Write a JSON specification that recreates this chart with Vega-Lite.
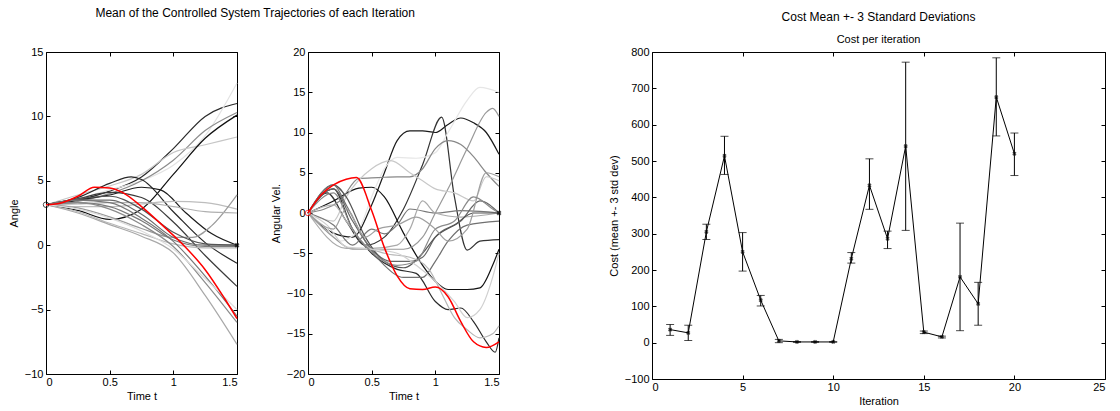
{
"$schema": "https://vega.github.io/schema/vega-lite/v6.json",
"background": "white",
"padding": {"left": 7, "top": 6, "right": 5, "bottom": 2},
"datasets": {
"ang": [
{"s":"a1","t":0,"v":3.14},{"s":"a1","t":0.25,"v":3.5},{"s":"a1","t":0.5,"v":4.2},{"s":"a1","t":0.75,"v":5.3},{"s":"a1","t":1,"v":7.5},{"s":"a1","t":1.25,"v":10},{"s":"a1","t":1.5,"v":11},
{"s":"a2","t":0,"v":3.14},{"s":"a2","t":0.25,"v":3.6},{"s":"a2","t":0.5,"v":4.3},{"s":"a2","t":0.75,"v":5},{"s":"a2","t":1,"v":6.2},{"s":"a2","t":1.25,"v":8.5},{"s":"a2","t":1.5,"v":12.6},
{"s":"a3","t":0,"v":3.14},{"s":"a3","t":0.25,"v":3.4},{"s":"a3","t":0.5,"v":4},{"s":"a3","t":0.75,"v":5},{"s":"a3","t":1,"v":6.6},{"s":"a3","t":1.25,"v":8.9},{"s":"a3","t":1.5,"v":10.3},
{"s":"a4","t":0,"v":3.14},{"s":"a4","t":0.25,"v":3.9},{"s":"a4","t":0.5,"v":4.6},{"s":"a4","t":0.75,"v":5.5},{"s":"a4","t":1,"v":7.2},{"s":"a4","t":1.25,"v":7.8},{"s":"a4","t":1.5,"v":8.4},
{"s":"a5","t":0,"v":3.14},{"s":"a5","t":0.25,"v":2.7},{"s":"a5","t":0.5,"v":2},{"s":"a5","t":0.75,"v":2.8},{"s":"a5","t":1,"v":5.5},{"s":"a5","t":1.25,"v":8.3},{"s":"a5","t":1.5,"v":10.1},
{"s":"a6","t":0,"v":3.14},{"s":"a6","t":0.25,"v":3.7},{"s":"a6","t":0.5,"v":4.8},{"s":"a6","t":0.67,"v":5.3},{"s":"a6","t":0.75,"v":5.1},{"s":"a6","t":1,"v":2.6},{"s":"a6","t":1.25,"v":0.2},{"s":"a6","t":1.5,"v":-1.4},
{"s":"a7","t":0,"v":3.14},{"s":"a7","t":0.25,"v":3.5},{"s":"a7","t":0.5,"v":3.9},{"s":"a7","t":0.75,"v":4.5},{"s":"a7","t":0.9,"v":4.3},{"s":"a7","t":1.1,"v":2.5},{"s":"a7","t":1.3,"v":0.9},{"s":"a7","t":1.5,"v":0},
{"s":"a8","t":0,"v":3.14},{"s":"a8","t":0.25,"v":3.6},{"s":"a8","t":0.5,"v":4.1},{"s":"a8","t":0.75,"v":3.7},{"s":"a8","t":1,"v":1.8},{"s":"a8","t":1.25,"v":-0.8},{"s":"a8","t":1.5,"v":-3.2},
{"s":"a9","t":0,"v":3.14},{"s":"a9","t":0.25,"v":3},{"s":"a9","t":0.5,"v":3},{"s":"a9","t":0.75,"v":3.2},{"s":"a9","t":1,"v":3.4},{"s":"a9","t":1.25,"v":3.3},{"s":"a9","t":1.5,"v":2.8},
{"s":"a10","t":0,"v":3.14},{"s":"a10","t":0.25,"v":2.9},{"s":"a10","t":0.5,"v":2.2},{"s":"a10","t":0.75,"v":1.3},{"s":"a10","t":1,"v":0.6},{"s":"a10","t":1.15,"v":0.6},{"s":"a10","t":1.3,"v":1.5},{"s":"a10","t":1.5,"v":3.9},
{"s":"a11","t":0,"v":3.14},{"s":"a11","t":0.25,"v":3.2},{"s":"a11","t":0.5,"v":3.3},{"s":"a11","t":0.75,"v":3.3},{"s":"a11","t":1,"v":3},{"s":"a11","t":1.25,"v":2.6},{"s":"a11","t":1.5,"v":2.5},
{"s":"a12","t":0,"v":3.14},{"s":"a12","t":0.25,"v":3.5},{"s":"a12","t":0.5,"v":3.5},{"s":"a12","t":0.75,"v":2.4},{"s":"a12","t":1,"v":0.6},{"s":"a12","t":1.25,"v":0},{"s":"a12","t":1.5,"v":0},
{"s":"a13","t":0,"v":3.14},{"s":"a13","t":0.25,"v":3.3},{"s":"a13","t":0.5,"v":3},{"s":"a13","t":0.75,"v":1.9},{"s":"a13","t":1,"v":0.4},{"s":"a13","t":1.25,"v":-0.1},{"s":"a13","t":1.5,"v":-0.1},
{"s":"a14","t":0,"v":3.14},{"s":"a14","t":0.25,"v":2.6},{"s":"a14","t":0.5,"v":1.7},{"s":"a14","t":0.75,"v":0.9},{"s":"a14","t":1,"v":0.1},{"s":"a14","t":1.25,"v":-0.2},{"s":"a14","t":1.5,"v":-0.2},
{"s":"a15","t":0,"v":3.14},{"s":"a15","t":0.25,"v":3.6},{"s":"a15","t":0.5,"v":3.8},{"s":"a15","t":0.75,"v":2.8},{"s":"a15","t":1,"v":1},{"s":"a15","t":1.25,"v":0.1},{"s":"a15","t":1.5,"v":0},
{"s":"a16","t":0,"v":3.14},{"s":"a16","t":0.25,"v":3.5},{"s":"a16","t":0.5,"v":3.3},{"s":"a16","t":0.75,"v":2.1},{"s":"a16","t":1,"v":0.3},{"s":"a16","t":1.25,"v":-2.4},{"s":"a16","t":1.5,"v":-5.5},
{"s":"a17","t":0,"v":3.14},{"s":"a17","t":0.25,"v":3.3},{"s":"a17","t":0.5,"v":2.8},{"s":"a17","t":0.75,"v":1.6},{"s":"a17","t":1,"v":-0.1},{"s":"a17","t":1.25,"v":-2.9},{"s":"a17","t":1.5,"v":-6},
{"s":"a18","t":0,"v":3.14},{"s":"a18","t":0.25,"v":2.5},{"s":"a18","t":0.5,"v":1.6},{"s":"a18","t":0.75,"v":0.7},{"s":"a18","t":1,"v":-0.6},{"s":"a18","t":1.25,"v":-3.9},{"s":"a18","t":1.5,"v":-7.7},
{"s":"a19","t":0,"v":3.14},{"s":"a19","t":0.25,"v":2.8},{"s":"a19","t":0.5,"v":2.1},{"s":"a19","t":0.75,"v":1.1},{"s":"a19","t":1,"v":-0.3},{"s":"a19","t":1.25,"v":-2.6},{"s":"a19","t":1.5,"v":-5},
{"s":"red","t":0,"v":3.14},{"s":"red","t":0.125,"v":3.3},{"s":"red","t":0.25,"v":3.8},{"s":"red","t":0.38,"v":4.5},{"s":"red","t":0.5,"v":4.45},{"s":"red","t":0.6,"v":4.1},{"s":"red","t":0.75,"v":3},{"s":"red","t":0.93,"v":1.4},{"s":"red","t":1.09,"v":-0.1},{"s":"red","t":1.25,"v":-1.9},{"s":"red","t":1.4,"v":-4.1},{"s":"red","t":1.5,"v":-5.7}
],
"vel": [
{"s":"v1","t":0,"v":0},{"s":"v1","t":0.2,"v":-2.5},{"s":"v1","t":0.35,"v":-3},{"s":"v1","t":0.5,"v":1},{"s":"v1","t":0.6,"v":5},{"s":"v1","t":0.7,"v":9},{"s":"v1","t":0.8,"v":10.2},{"s":"v1","t":0.9,"v":10.2},{"s":"v1","t":1,"v":10},{"s":"v1","t":1.1,"v":11},{"s":"v1","t":1.2,"v":11.8},{"s":"v1","t":1.3,"v":11.2},{"s":"v1","t":1.4,"v":10},{"s":"v1","t":1.5,"v":7.3},
{"s":"v2","t":0,"v":0},{"s":"v2","t":0.15,"v":2.5},{"s":"v2","t":0.3,"v":-1},{"s":"v2","t":0.45,"v":-4},{"s":"v2","t":0.6,"v":-3},{"s":"v2","t":0.75,"v":0.5},{"s":"v2","t":0.9,"v":6},{"s":"v2","t":1.05,"v":11.9},{"s":"v2","t":1.15,"v":2},{"s":"v2","t":1.25,"v":-4.6},{"s":"v2","t":1.35,"v":-3.5},{"s":"v2","t":1.5,"v":-3.3},
{"s":"v3","t":0,"v":0},{"s":"v3","t":0.2,"v":1.5},{"s":"v3","t":0.4,"v":3.1},{"s":"v3","t":0.5,"v":3.2},{"s":"v3","t":0.6,"v":2},{"s":"v3","t":0.75,"v":-2.5},{"s":"v3","t":0.9,"v":-6.5},{"s":"v3","t":1,"v":-8.5},{"s":"v3","t":1.1,"v":-9.5},{"s":"v3","t":1.25,"v":-9.5},{"s":"v3","t":1.35,"v":-9.3},{"s":"v3","t":1.45,"v":-6.5},{"s":"v3","t":1.5,"v":-4.5},
{"s":"v4","t":0,"v":0},{"s":"v4","t":0.2,"v":3},{"s":"v4","t":0.35,"v":-2},{"s":"v4","t":0.5,"v":-5},{"s":"v4","t":0.7,"v":-7},{"s":"v4","t":0.85,"v":-7.5},{"s":"v4","t":1,"v":-11},{"s":"v4","t":1.1,"v":-12},{"s":"v4","t":1.2,"v":-11.8},{"s":"v4","t":1.3,"v":-13.5},{"s":"v4","t":1.4,"v":-16},{"s":"v4","t":1.47,"v":-17.3},{"s":"v4","t":1.5,"v":-15.5},
{"s":"v5","t":0,"v":0},{"s":"v5","t":0.15,"v":-2},{"s":"v5","t":0.25,"v":-3.5},{"s":"v5","t":0.4,"v":-2},{"s":"v5","t":0.5,"v":2},{"s":"v5","t":0.6,"v":5.5},{"s":"v5","t":0.7,"v":6.9},{"s":"v5","t":0.85,"v":6.8},{"s":"v5","t":1,"v":7.5},{"s":"v5","t":1.1,"v":10},{"s":"v5","t":1.25,"v":14},{"s":"v5","t":1.35,"v":15.6},{"s":"v5","t":1.5,"v":15},
{"s":"v6","t":0,"v":0},{"s":"v6","t":0.2,"v":-3},{"s":"v6","t":0.35,"v":-4.5},{"s":"v6","t":0.5,"v":-4.5},{"s":"v6","t":0.75,"v":-4.5},{"s":"v6","t":0.9,"v":-3},{"s":"v6","t":1,"v":0},{"s":"v6","t":1.1,"v":3},{"s":"v6","t":1.25,"v":8},{"s":"v6","t":1.4,"v":12.5},{"s":"v6","t":1.45,"v":13},{"s":"v6","t":1.5,"v":12},
{"s":"v7","t":0,"v":0},{"s":"v7","t":0.25,"v":1.5},{"s":"v7","t":0.4,"v":4.3},{"s":"v7","t":0.55,"v":4.4},{"s":"v7","t":0.7,"v":4.5},{"s":"v7","t":0.8,"v":4.5},{"s":"v7","t":0.9,"v":5.5},{"s":"v7","t":1,"v":8},{"s":"v7","t":1.1,"v":9},{"s":"v7","t":1.2,"v":8.5},{"s":"v7","t":1.3,"v":7},{"s":"v7","t":1.4,"v":5},{"s":"v7","t":1.5,"v":3.3},
{"s":"v8","t":0,"v":0},{"s":"v8","t":0.2,"v":-1},{"s":"v8","t":0.3,"v":2},{"s":"v8","t":0.5,"v":5.5},{"s":"v8","t":0.65,"v":6.5},{"s":"v8","t":0.8,"v":5},{"s":"v8","t":0.9,"v":4},{"s":"v8","t":1,"v":3},{"s":"v8","t":1.15,"v":2.5},{"s":"v8","t":1.3,"v":1.5},{"s":"v8","t":1.4,"v":4.5},{"s":"v8","t":1.5,"v":4},
{"s":"v9","t":0,"v":0},{"s":"v9","t":0.2,"v":-1.5},{"s":"v9","t":0.35,"v":-4},{"s":"v9","t":0.5,"v":-2},{"s":"v9","t":0.6,"v":-2.6},{"s":"v9","t":0.7,"v":-1.5},{"s":"v9","t":0.8,"v":0.5},{"s":"v9","t":1,"v":0},{"s":"v9","t":1.2,"v":0.3},{"s":"v9","t":1.35,"v":0.2},{"s":"v9","t":1.5,"v":0},
{"s":"v10","t":0,"v":0},{"s":"v10","t":0.3,"v":-4.4},{"s":"v10","t":0.5,"v":-4.4},{"s":"v10","t":0.7,"v":-4},{"s":"v10","t":0.8,"v":-2},{"s":"v10","t":0.9,"v":1.5},{"s":"v10","t":1,"v":0},{"s":"v10","t":1.2,"v":-0.5},{"s":"v10","t":1.5,"v":0},
{"s":"v11","t":0,"v":0},{"s":"v11","t":0.2,"v":3},{"s":"v11","t":0.35,"v":-1},{"s":"v11","t":0.5,"v":-4.5},{"s":"v11","t":0.65,"v":-6},{"s":"v11","t":0.8,"v":-6},{"s":"v11","t":0.9,"v":-5.5},{"s":"v11","t":1,"v":-3},{"s":"v11","t":1.2,"v":-1},{"s":"v11","t":1.35,"v":1.5},{"s":"v11","t":1.5,"v":0},
{"s":"v12","t":0,"v":0},{"s":"v12","t":0.2,"v":3.5},{"s":"v12","t":0.3,"v":2},{"s":"v12","t":0.45,"v":-3},{"s":"v12","t":0.6,"v":-6},{"s":"v12","t":0.75,"v":-6.8},{"s":"v12","t":0.9,"v":-5},{"s":"v12","t":1,"v":-3},{"s":"v12","t":1.15,"v":-1.5},{"s":"v12","t":1.3,"v":0},{"s":"v12","t":1.5,"v":0},
{"s":"v13","t":0,"v":0},{"s":"v13","t":0.2,"v":3.5},{"s":"v13","t":0.3,"v":1},{"s":"v13","t":0.45,"v":-3.5},{"s":"v13","t":0.6,"v":-6.5},{"s":"v13","t":0.75,"v":-8},{"s":"v13","t":0.9,"v":-8},{"s":"v13","t":1,"v":-6},{"s":"v13","t":1.1,"v":-3.5},{"s":"v13","t":1.25,"v":-1.5},{"s":"v13","t":1.5,"v":-1},
{"s":"v14","t":0,"v":0},{"s":"v14","t":0.2,"v":1},{"s":"v14","t":0.3,"v":-1},{"s":"v14","t":0.45,"v":-4},{"s":"v14","t":0.6,"v":-5},{"s":"v14","t":0.8,"v":-5.5},{"s":"v14","t":0.95,"v":-7},{"s":"v14","t":1.05,"v":-10},{"s":"v14","t":1.15,"v":-13},{"s":"v14","t":1.25,"v":-14.5},{"s":"v14","t":1.35,"v":-15.5},{"s":"v14","t":1.45,"v":-15},{"s":"v14","t":1.5,"v":-14},
{"s":"v15","t":0,"v":0},{"s":"v15","t":0.15,"v":-1.5},{"s":"v15","t":0.3,"v":-4.2},{"s":"v15","t":0.5,"v":-4.5},{"s":"v15","t":0.7,"v":-5},{"s":"v15","t":0.85,"v":-6.5},{"s":"v15","t":1,"v":-8.5},{"s":"v15","t":1.15,"v":-11},{"s":"v15","t":1.25,"v":-13},{"s":"v15","t":1.35,"v":-12},{"s":"v15","t":1.45,"v":-8},{"s":"v15","t":1.5,"v":-5},
{"s":"v16","t":0,"v":0},{"s":"v16","t":0.2,"v":-2},{"s":"v16","t":0.3,"v":0.5},{"s":"v16","t":0.45,"v":-3},{"s":"v16","t":0.55,"v":-2},{"s":"v16","t":0.7,"v":-1.5},{"s":"v16","t":0.85,"v":-0.5},{"s":"v16","t":1,"v":-2},{"s":"v16","t":1.1,"v":-3.5},{"s":"v16","t":1.25,"v":-2},{"s":"v16","t":1.4,"v":5},{"s":"v16","t":1.5,"v":4.5},
{"s":"v17","t":0,"v":0},{"s":"v17","t":0.2,"v":2.5},{"s":"v17","t":0.35,"v":-2},{"s":"v17","t":0.55,"v":-5.5},{"s":"v17","t":0.7,"v":-6.5},{"s":"v17","t":0.85,"v":-6},{"s":"v17","t":1,"v":-2},{"s":"v17","t":1.15,"v":-1},{"s":"v17","t":1.3,"v":2},{"s":"v17","t":1.45,"v":0.5},{"s":"v17","t":1.5,"v":0},
{"s":"red","t":0,"v":0},{"s":"red","t":0.1,"v":2.2},{"s":"red","t":0.2,"v":3.5},{"s":"red","t":0.3,"v":4.2},{"s":"red","t":0.38,"v":4.4},{"s":"red","t":0.5,"v":0.3},{"s":"red","t":0.6,"v":-4.3},{"s":"red","t":0.7,"v":-7.8},{"s":"red","t":0.8,"v":-9.4},{"s":"red","t":0.9,"v":-9.5},{"s":"red","t":1,"v":-9.2},{"s":"red","t":1.1,"v":-10.4},{"s":"red","t":1.2,"v":-13.5},{"s":"red","t":1.3,"v":-16},{"s":"red","t":1.4,"v":-16.7},{"s":"red","t":1.5,"v":-16}
],
"pts": [
{"p":"ang","k":"start","t":0,"v":3.14},{"p":"ang","k":"end","t":1.5,"v":0},
{"p":"vel","k":"start","t":0,"v":0},{"p":"vel","k":"end","t":1.5,"v":0}
],
"cost": [
{"it":1,"mean":36,"lo":20,"hi":50},{"it":2,"mean":27,"lo":6,"hi":48},{"it":3,"mean":305,"lo":284,"hi":326},{"it":4,"mean":514,"lo":463,"hi":568},
{"it":5,"mean":250,"lo":197,"hi":303},{"it":6,"mean":117,"lo":101,"hi":130},{"it":7,"mean":5,"lo":0,"hi":9},{"it":8,"mean":2,"lo":1,"hi":3},
{"it":9,"mean":2,"lo":1,"hi":3},{"it":10,"mean":2,"lo":1,"hi":3},{"it":11,"mean":231,"lo":219,"hi":248},{"it":12,"mean":433,"lo":367,"hi":506},
{"it":13,"mean":286,"lo":259,"hi":307},{"it":14,"mean":541,"lo":309,"hi":772},{"it":15,"mean":29,"lo":25,"hi":32},{"it":16,"mean":16,"lo":13,"hi":18},
{"it":17,"mean":181,"lo":33,"hi":329},{"it":18,"mean":107,"lo":48,"hi":166},{"it":19,"mean":676,"lo":569,"hi":784},{"it":20,"mean":520,"lo":460,"hi":577}
]
},
"spacing": 104,
"resolve": {"scale": {"color": "independent"}},
"hconcat": [
{
"title": {"text": "Mean of the Controlled System Trajectories of each Iteration", "anchor": "middle", "offset": 26},
"spacing": 28,
"resolve": {"scale": {"color": "independent"}},
"hconcat": [
{
"width": 191, "height": 322,
"resolve": {"axis": {"x": "independent", "y": "independent"}},
"layer": [
{"data": {"name": "ang"}, "transform": [{"filter": "datum.s != 'red'"}],
 "mark": {"type": "line", "interpolate": "monotone", "strokeWidth": 1.2},
 "encoding": {
  "x": {"field": "t", "type": "quantitative", "scale": {"domain": [0, 1.5], "nice": false}, "axis": {"values": [0, 0.5, 1, 1.5], "format": "~g", "title": "Time t"}},
  "y": {"field": "v", "type": "quantitative", "scale": {"domain": [-10, 15], "nice": false}, "axis": {"values": [-10, -5, 0, 5, 10, 15], "title": "Angle"}},
  "color": {"field": "s", "type": "nominal", "legend": null, "scale": {"domain": ["a1","a2","a3","a4","a5","a6","a7","a8","a9","a10","a11","a12","a13","a14","a15","a16","a17","a18","a19"], "range": ["#2b2b2b","#e3e3e3","#8c8c8c","#c6c6c6","#111111","#262626","#1c1c1c","#3a3a3a","#bdbdbd","#9a9a9a","#b0b0b0","#6a6a6a","#7a7a7a","#b8b8b8","#555555","#777777","#8a8a8a","#a8a8a8","#dcdcdc"]}}
 }},
{"data": {"name": "ang"}, "transform": [{"filter": "datum.s == 'red'"}],
 "mark": {"type": "line", "interpolate": "monotone", "strokeWidth": 1.5, "color": "#ff0000"},
 "encoding": {"x": {"field": "t", "type": "quantitative", "axis": null}, "y": {"field": "v", "type": "quantitative", "axis": null}}},
{"data": {"name": "pts"}, "transform": [{"filter": "datum.p == 'ang' && datum.k == 'start'"}],
 "mark": {"type": "point", "shape": "circle", "size": 30, "stroke": "black", "strokeWidth": 1, "filled": false},
 "encoding": {"x": {"field": "t", "type": "quantitative", "axis": null}, "y": {"field": "v", "type": "quantitative", "axis": null}}},
{"data": {"name": "pts"}, "transform": [{"filter": "datum.p == 'ang' && datum.k == 'end'"}],
 "mark": {"type": "point", "shape": "cross", "angle": 45, "size": 25, "color": "black", "filled": true},
 "encoding": {"x": {"field": "t", "type": "quantitative", "axis": null}, "y": {"field": "v", "type": "quantitative", "axis": null}}},
{"data": {"name": "pts"}, "transform": [{"filter": "datum.p == 'ang'"}],
 "mark": {"type": "point", "opacity": 0},
 "encoding": {"x": {"field": "t", "type": "quantitative", "axis": {"orient": "top", "labels": false, "title": null, "values": [0, 0.5, 1, 1.5]}}, "y": {"field": "v", "type": "quantitative", "axis": {"orient": "right", "labels": false, "title": null, "values": [-10, -5, 0, 5, 10, 15]}}}}
]
},
{
"width": 191, "height": 322,
"resolve": {"axis": {"x": "independent", "y": "independent"}},
"layer": [
{"data": {"name": "vel"}, "transform": [{"filter": "datum.s != 'red'"}],
 "mark": {"type": "line", "interpolate": "monotone", "strokeWidth": 1.2},
 "encoding": {
  "x": {"field": "t", "type": "quantitative", "scale": {"domain": [0, 1.5], "nice": false}, "axis": {"values": [0, 0.5, 1, 1.5], "format": "~g", "title": "Time t"}},
  "y": {"field": "v", "type": "quantitative", "scale": {"domain": [-20, 20], "nice": false}, "axis": {"values": [-20, -15, -10, -5, 0, 5, 10, 15, 20], "title": "Angular Vel."}},
  "color": {"field": "s", "type": "nominal", "legend": null, "scale": {"domain": ["v1","v2","v3","v4","v5","v6","v7","v8","v9","v10","v11","v12","v13","v14","v15","v16","v17"], "range": ["#1a1a1a","#333333","#111111","#2a2a2a","#e6e6e6","#999999","#888888","#c8c8c8","#777777","#aaaaaa","#666666","#555555","#707070","#b5b5b5","#d0d0d0","#a0a0a0","#8a8a8a"]}}
 }},
{"data": {"name": "vel"}, "transform": [{"filter": "datum.s == 'red'"}],
 "mark": {"type": "line", "interpolate": "monotone", "strokeWidth": 1.5, "color": "#ff0000"},
 "encoding": {"x": {"field": "t", "type": "quantitative", "axis": null}, "y": {"field": "v", "type": "quantitative", "axis": null}}},
{"data": {"name": "pts"}, "transform": [{"filter": "datum.p == 'vel' && datum.k == 'start'"}],
 "mark": {"type": "point", "shape": "circle", "size": 30, "stroke": "#ff0000", "strokeWidth": 1, "filled": false},
 "encoding": {"x": {"field": "t", "type": "quantitative", "axis": null}, "y": {"field": "v", "type": "quantitative", "axis": null}}},
{"data": {"name": "pts"}, "transform": [{"filter": "datum.p == 'vel' && datum.k == 'end'"}],
 "mark": {"type": "point", "shape": "cross", "angle": 45, "size": 25, "color": "black", "filled": true},
 "encoding": {"x": {"field": "t", "type": "quantitative", "axis": null}, "y": {"field": "v", "type": "quantitative", "axis": null}}},
{"data": {"name": "pts"}, "transform": [{"filter": "datum.p == 'vel'"}],
 "mark": {"type": "point", "opacity": 0},
 "encoding": {"x": {"field": "t", "type": "quantitative", "axis": {"orient": "top", "labels": false, "title": null, "values": [0, 0.5, 1, 1.5]}}, "y": {"field": "v", "type": "quantitative", "axis": {"orient": "right", "labels": false, "title": null, "values": [-20, -15, -10, -5, 0, 5, 10, 15, 20]}}}}
]
}
]
},
{
"title": {"text": "Cost Mean +- 3 Standard Deviations", "subtitle": "Cost per iteration", "anchor": "middle", "fontSize": 12, "subtitleFontSize": 11, "subtitleColor": "black", "subtitleFont": "Liberation Sans", "subtitlePadding": 10, "offset": 0},
"width": 453, "height": 327,
"data": {"name": "cost"},
"resolve": {"axis": {"x": "independent", "y": "independent"}},
"layer": [
{"mark": {"type": "line", "color": "black", "strokeWidth": 1},
 "encoding": {
  "x": {"field": "it", "type": "quantitative", "scale": {"domain": [0, 25], "nice": false}, "axis": {"values": [0, 5, 10, 15, 20, 25], "title": "Iteration"}},
  "y": {"field": "mean", "type": "quantitative", "scale": {"domain": [-100, 800], "nice": false}, "axis": {"values": [-100, 0, 100, 200, 300, 400, 500, 600, 700, 800], "title": "Cost (mean +- 3 std dev)"}}
 }},
{"mark": {"type": "rule", "color": "black", "strokeWidth": 1},
 "encoding": {"x": {"field": "it", "type": "quantitative", "axis": null}, "y": {"field": "lo", "type": "quantitative", "axis": null}, "y2": {"field": "hi"}}},
{"mark": {"type": "tick", "orient": "horizontal", "size": 8, "thickness": 1, "color": "black"},
 "encoding": {"x": {"field": "it", "type": "quantitative", "axis": null}, "y": {"field": "lo", "type": "quantitative", "axis": null}}},
{"mark": {"type": "tick", "orient": "horizontal", "size": 8, "thickness": 1, "color": "black"},
 "encoding": {"x": {"field": "it", "type": "quantitative", "axis": null}, "y": {"field": "hi", "type": "quantitative", "axis": null}}},
{"mark": {"type": "point", "shape": "cross", "angle": 45, "size": 18, "color": "black", "filled": true},
 "encoding": {"x": {"field": "it", "type": "quantitative", "axis": null}, "y": {"field": "mean", "type": "quantitative", "axis": null}}},
{"mark": {"type": "point", "opacity": 0},
 "encoding": {"x": {"field": "it", "type": "quantitative", "axis": {"orient": "top", "labels": false, "title": null, "values": [0, 5, 10, 15, 20, 25]}}, "y": {"field": "mean", "type": "quantitative", "axis": {"orient": "right", "labels": false, "title": null, "values": [-100, 0, 100, 200, 300, 400, 500, 600, 700, 800]}}}}
]
}
],
"config": {
 "font": "Liberation Sans",
 "view": {"stroke": "black", "strokeWidth": 1},
 "axis": {"domain": false, "grid": false, "tickColor": "black", "tickSize": -4, "labelColor": "black", "labelFontSize": 11, "labelFont": "Liberation Sans", "titleFont": "Liberation Sans", "titleFontWeight": "normal", "titleFontSize": 11, "titleColor": "black", "labelPadding": 7, "titlePadding": 5},
 "axisX": {"labelPadding": 6, "titlePadding": 3},
 "title": {"font": "Liberation Sans", "fontWeight": "normal", "fontSize": 12, "color": "black"}
}
}
